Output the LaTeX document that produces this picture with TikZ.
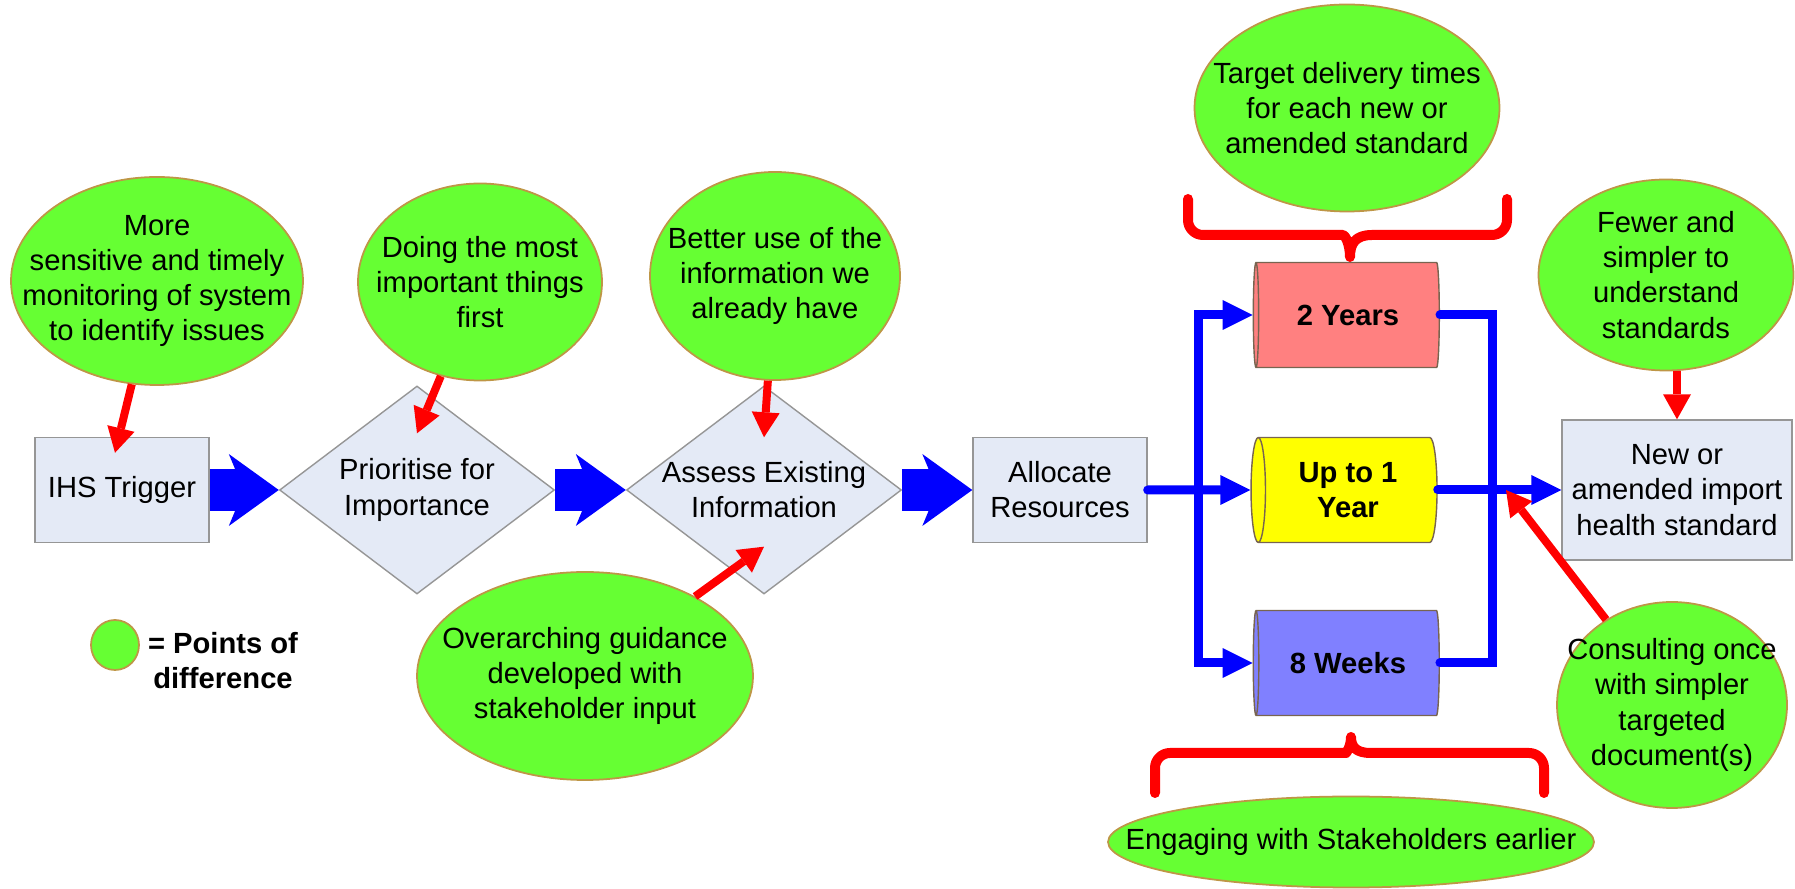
\documentclass[tikz,border=0pt]{standalone}
\usepackage{fontspec}
\setmainfont{Liberation Sans}
\usepackage{tikz}
\usetikzlibrary{arrows.meta}
\tikzset{>=Stealth}
\usetikzlibrary{shapes.geometric}
\definecolor{pointgreen}{RGB}{102,255,51}
\definecolor{pointedge}{RGB}{190,150,70}
\definecolor{boxfill}{RGB}{228,234,246}
\definecolor{boxedge}{RGB}{150,150,150}
\definecolor{cyledge}{RGB}{120,100,80}
\definecolor{longfill}{RGB}{255,128,128}
\definecolor{midfill}{RGB}{255,255,0}
\definecolor{shortfill}{RGB}{128,128,255}
\tikzset{
    every node/.style={font=\fontsize{8.3}{10}\selectfont},
    ptext/.style={align=center},
    point/.style={ellipse, draw=pointedge, fill=pointgreen, line width=0.5pt, inner sep=0pt},
    stage/.style={rectangle, draw=boxedge, fill=boxfill, align=center, minimum width=1.74cm, minimum height=1.05cm, inner sep=0pt},
    decision/.style={diamond, draw=boxedge, fill=boxfill, minimum width=2.75cm, minimum height=2.08cm, inner sep=0pt},
    timebox/.style={cylinder, shape border rotate=180, aspect=0.26, draw=cyledge, minimum width=1.05cm, minimum height=1.86cm, inner sep=0pt, align=center, font=\fontsize{8.3}{10}\selectfont\bfseries},
    bigflow/.style={line width=4.2mm, blue, -{Stealth[length=5mm, width=7.2mm, inset=1.5mm, line width=0pt]}},
    flow/.style={line width=0.9mm, blue, line cap=round, -{Triangle[length=3mm, width=3mm, line width=0pt]}},
    push/.style={line width=0.8mm, red, -{Triangle[length=2.5mm, width=2.8mm, line width=0pt]}},
    bracket/.style={line width=1mm, red, line cap=round, line join=round, rounded corners=1.5mm}
}
\begin{document}
\begin{tikzpicture}[]
    \useasboundingbox (0,0) rectangle (17.95,8.89);
    \node[stage] (trigger) at (1.22,3.99) {IHS Trigger};
    \node[decision, label={[ptext]center:Prioritise for\\Importance}] (prioritise) at (4.17,3.99) {};
    \node[decision, label={[ptext]center:Assess Existing\\Information}] (assess) at (7.64,3.99) {};
    \node[stage] (allocate) at (10.60,3.99) {Allocate\\Resources};
    \node[timebox, fill=longfill] (years) at (13.48,5.74) {2 Years};
    \node[timebox, fill=midfill] (year) at (13.48,3.99) {Up to 1\\Year};
    \node[timebox, fill=shortfill] (weeks) at (13.48,2.26) {8 Weeks};
    \node[stage, minimum width=2.30cm, minimum height=1.40cm] (standard) at (16.77,3.99) {New or\\amended import\\health standard};
    \node[point, minimum width=2.92cm, minimum height=2.08cm, label={[ptext]center:More\\sensitive and timely\\monitoring of system\\to identify issues}] (monitor) at (1.57,6.08) {};
    \node[point, minimum width=2.44cm, minimum height=1.97cm, label={[ptext]center:Doing the most\\important things\\first}] (importance) at (4.80,6.07) {};
    \node[point, minimum width=2.50cm, minimum height=2.08cm, label={[ptext]center:Better use of the\\information we\\already have}] (information) at (7.75,6.13) {};
    \node[point, minimum width=3.36cm, minimum height=2.08cm, label={[ptext]center:Overarching guidance\\developed with\\stakeholder input}] (guidance) at (5.85,2.13) {};
    \node[point, minimum width=3.05cm, minimum height=2.07cm, label={[ptext]center:Target delivery times\\for each new or\\amended standard}] (target) at (13.47,7.81) {};
    \node[point, minimum width=2.55cm, minimum height=1.91cm, label={[ptext]center:Fewer and\\simpler to\\understand\\standards}] (fewer) at (16.66,6.14) {};
    \node[point, minimum width=2.30cm, minimum height=2.06cm, label={[ptext]center:Consulting once\\with simpler\\targeted\\document(s)}] (consult) at (16.72,1.84) {};
    \node[point, minimum width=4.86cm, minimum height=0.91cm, label={center:Engaging with Stakeholders earlier}] (engage) at (13.51,0.47) {};
    \node[point, minimum width=0.48cm, minimum height=0.50cm] (key) at (1.15,2.44) {};
    \node[align=center, font=\fontsize{8.3}{10}\selectfont\bfseries] (keytext) at (2.23,2.28) {= Points of\\difference};
    \coordinate (split) at (11.98,3.99);
    \coordinate (gather) at (14.92,3.99);
    \coordinate (entry) at (15.06,3.99);
    \draw[bigflow] (trigger) -- (prioritise);
    \draw[bigflow] (prioritise) -- (assess);
    \draw[bigflow] (assess) -- (allocate);
    \draw[flow] (allocate) -- (year);
    \draw[flow] (split) |- (years);
    \draw[flow] (split) |- (weeks);
    \draw[flow, -] (years) -| (gather);
    \draw[flow, -] (weeks) -| (gather);
    \draw[flow] (year) -- (standard);
    \draw[push] (monitor) -- ([xshift=-0.7mm, yshift=-1.6mm]trigger.north);
    \draw[push] (importance) -- ([yshift=-4.8mm]prioritise.north);
    \draw[push] (information) -- ([yshift=-5.2mm]assess.north);
    \draw[push] (guidance) -- ([yshift=4.8mm]assess.south);
    \draw[push] (fewer.south -| standard.north) -- (standard.north);
    \draw[push] (consult) -- (entry);
    \draw[bracket] (11.88,6.90) -- (11.88,6.54) -- (13.28,6.54) [sharp corners] .. controls (13.45,6.54) and (13.50,6.45) .. (13.50,6.32) .. controls (13.50,6.45) and (13.55,6.54) .. (13.72,6.54) [rounded corners=1.5mm] -- (15.07,6.54) -- (15.07,6.90);
    \draw[bracket] (11.55,0.96) -- (11.55,1.36) -- (13.31,1.36) [sharp corners] .. controls (13.46,1.36) and (13.51,1.42) .. (13.51,1.52) .. controls (13.51,1.42) and (13.56,1.36) .. (13.71,1.36) [rounded corners=1.5mm] -- (15.44,1.36) -- (15.44,0.96);
\end{tikzpicture}
\end{document}
